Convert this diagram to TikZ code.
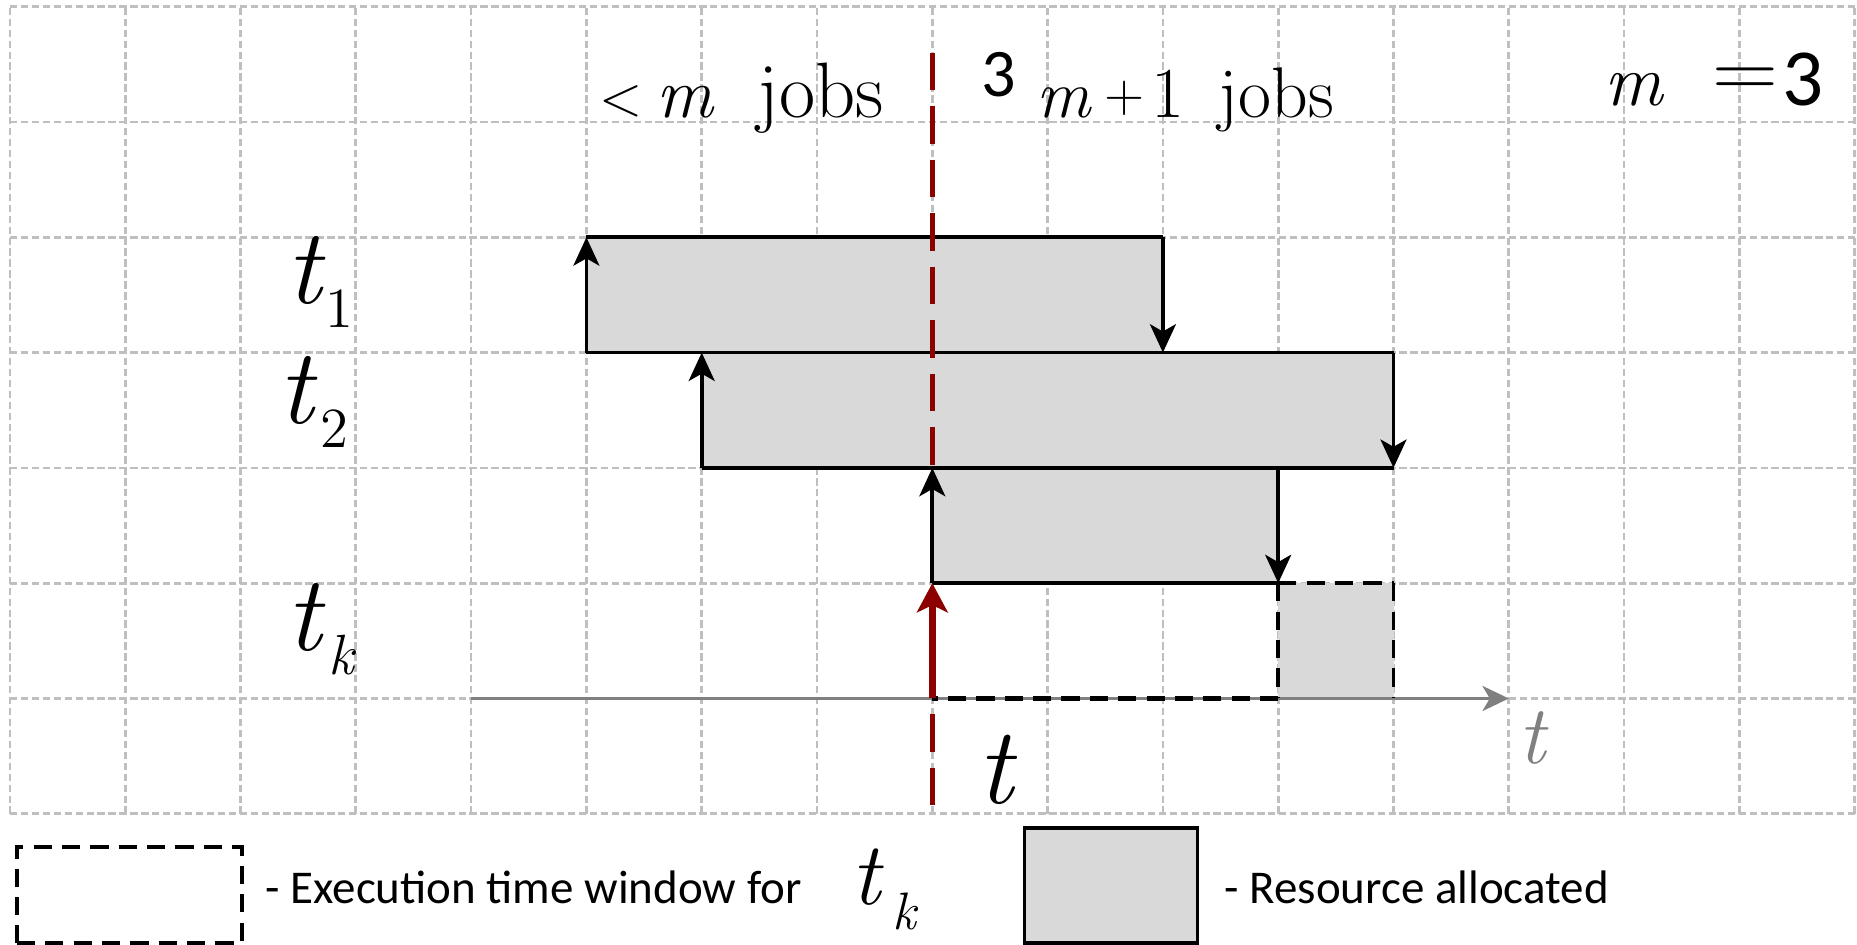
\documentclass[tikz,border=0pt]{standalone}
\usepackage{fontspec}
\newfontfamily\legendfont{Carlito}
\usetikzlibrary{positioning, arrows.meta}

\newcommand\fsz[1]{\fontsize{#1}{#1}\selectfont}
% t with a lowered index
\newcommand\tjob[2]{\fsz{26.5}\itshape t\kern#2\raisebox{-5.9pt}{\fsz{14}#1}}

\tikzset{
  gridline/.style={black!25, line width=0.65pt, dash pattern=on 1.8pt off 0.9pt},
  jobfill/.style={fill=black!15},
  jobedge/.style={black, line width=0.9pt},
  jobarrow/.style={jobedge, -{Stealth[length=7pt, width=6.4pt, inset=1.8pt]}},
  window/.style={black, line width=1pt, dash pattern=on 4.5pt off 2.5pt},
  nowline/.style={red!55!black, line width=1.2pt, dash pattern=on 9.3pt off 3.9pt},
  nowarrow/.style={red!55!black, line width=1.6pt, -{Stealth[length=7.2pt, width=7.6pt, inset=1.8pt]}},
  timeaxis/.style={gray, line width=0.7pt, -{Stealth[length=6.5pt, width=6.2pt, inset=1.8pt]}},
  lbl/.style={inner sep=0pt, anchor=base west},
}

\begin{document}
\begin{tikzpicture}
	\useasboundingbox (-0.086,-1.138) rectangle (16.02,7.058);
	
	% --- GRID ---
	\draw[gridline] (0,0) grid (16,7);
	
	% --- JOBS (corners a, b, c, d) ---
	\foreach \j/\xa/\xb/\ya in {1/5/10/4, 2/6/12/3, 3/8/11/2}{
		\coordinate (j\j a) at (\xa,\ya);
		\coordinate (j\j b) at (\xa,\ya+1);
		\coordinate (j\j c) at (\xb,\ya+1);
		\coordinate (j\j d) at (\xb,\ya);
		\fill[jobfill] (j\j a) rectangle (j\j c);
	}
	
	% Execution window of t_k
	\coordinate (w0) at (8,1);
	\coordinate (w1) at (11,1);
	\coordinate (w2) at (12,1);
	\coordinate (w3) at (12,2);
	\coordinate (w4) at (11,2);
	\fill[jobfill] (w1) rectangle (w3);
	
	% Time axis
	\coordinate (ax0) at (4,1);
	\coordinate (ax1) at (13,1);
	\draw[timeaxis] (ax0) -- (ax1);
	
	\draw[window] (w1) -- (w0);
	\draw[window] (w4) -- (w3);
	\draw[window] (w4) -- (w1);
	\draw[window, line width=0.6pt] (w3) -- (w2);
	
	% Edges and start / end arrows
	\foreach \j in {1,2,3}{
		\draw[jobedge] (j\j b) -- (j\j c);
		\draw[jobedge] (j\j a) -- (j\j d);
		\draw[jobarrow] (j\j a) -- (j\j b);
		\draw[jobarrow] (j\j c) -- (j\j d);
	}
	
	% --- MOMENT t (RED) ---
	\coordinate (nowtop) at (8,6.6);
	\coordinate (nowbot) at (8,0);
	\draw[nowline] (nowtop) -- (j3b);
	\draw[nowline, dash phase=9.3pt] (w0) -- (nowbot);
	\draw[nowarrow] (w0) -- (j3a);
	
	% --- LABELS ---
	\node[lbl] (lab1) at (2.395,4.422) {\tjob{\upshape 1}{1pt}};
	\node[lbl] (lab2) at (2.325,3.381) {\tjob{\upshape 2}{1.6pt}};
	\node[lbl] (labk) at (2.395,1.412) {\tjob{k}{1.6pt}};
	\node[lbl] (labt) at (8.383,0.088) {\fsz{27}\itshape t};
	\node[lbl, text=gray] (axislab) at (13.08,0.432) {\fsz{20.5}\itshape t};
	
	\node[lbl] (fewer) at (5.103,6.035) {\raisebox{0.6pt}{\fsz{14}<}\hspace{3.4pt}{\fsz{17.5}\itshape m}\hspace{11.1pt}{\fsz{19.4}jobs}};
	\node[lbl] (more) at (8.418,6.035) {\raisebox{5.2pt}{\legendfont\fsz{16.8}3}\hspace{5.2pt}{\fsz{16.7}\itshape m}\hspace{3.4pt}\raisebox{1.6pt}{\fsz{13}+}\hspace{1.6pt}{\fsz{17.7}1\hspace{8.5pt}jobs}};
	\node[lbl] (mval) at (13.82,6.147) {{\fsz{18}\itshape m}\hspace{12.3pt}\raisebox{1.8pt}{\fsz{20.5}\scalebox{1.1}[1]{=}}\hspace{1pt}{\legendfont\fsz{20}3}};
	
	% --- LEGEND ---
	\node[draw, window, minimum width=1.95cm, minimum height=0.832cm, inner sep=0pt] (legwin) at (1.035,-0.704) {};
	\node[lbl, font={\legendfont\fsz{11.6}}] (legwintxt) at (2.21,-0.776) {- Execution time window for};
	\node[lbl] (legtk) at (7.295,-0.791) {\fsz{22}\itshape t\kern2.8pt\raisebox{-6pt}{\fsz{13}k}};
	
	\node[draw, jobedge, jobfill, minimum width=1.5cm, minimum height=0.997cm, inner sep=0pt] (legres) at (9.55,-0.6215) {};
	\node[lbl, font={\legendfont\fsz{11.6}}] (legrestxt) at (10.527,-0.776) {- Resource allocated};
	
\end{tikzpicture}
\end{document}
